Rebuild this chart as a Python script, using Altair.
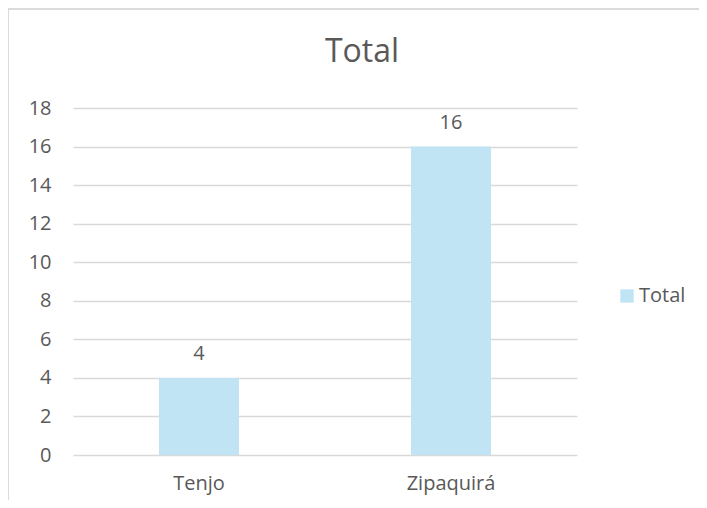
import altair as alt
import pandas as pd

categories = ["Tenjo", "Zipaquirá"]
values = [4, 16]
series_name = "Total"
y_ticks = [0, 2, 4, 6, 8, 10, 12, 14, 16, 18]

df = pd.DataFrame({"Municipio": categories, "Total": values, "Serie": [series_name] * len(categories)})

FONT = "Open Sans"
TXT = "#595959"
BAR = "#C1E4F5"
GRID = "#D9D9D9"
FS = 20

x_enc = alt.X("Municipio:N", sort=categories,
              scale=alt.Scale(paddingInner=0, paddingOuter=0),
              axis=alt.Axis(title=None, labelAngle=0, labelFontSize=FS, labelColor=TXT,
                            labelFont=FONT, labelPadding=18, domain=False, ticks=False, grid=False))
y_enc = alt.Y("Total:Q", scale=alt.Scale(domain=[0, 18], nice=False),
              axis=alt.Axis(title=None, values=y_ticks, labelFontSize=FS,
                            labelColor=TXT, labelFont=FONT, labelPadding=22, domain=False,
                            labelOverlap=False, ticks=False, gridColor=GRID, gridWidth=1.3))

bars = alt.Chart(df).mark_bar(size=80).encode(
    color=alt.Color("Serie:N", scale=alt.Scale(range=[BAR]),
                    legend=alt.Legend(title=None, orient="none", legendX=544, legendY=178,
                                      symbolType="square", symbolSize=180, symbolStrokeWidth=0,
                                      labelFontSize=FS, labelColor=TXT, labelFont=FONT,
                                      padding=0, labelOffset=2)),
)

labels = alt.Chart(df).mark_text(fontSize=FS, color=TXT, font=FONT, baseline="middle", dy=-24).encode(
    text="Total:Q",
)

border_top = alt.Chart(df).mark_rule(color=GRID, strokeWidth=1.5).encode(
    x=alt.value(-65), x2=alt.value(660), y=alt.value(-99))
border_left = alt.Chart(df).mark_rule(color=GRID, strokeWidth=1.5).encode(
    x=alt.value(-65), y=alt.value(-99), y2=alt.value(400))

data_layers = alt.layer(bars, labels).encode(x=x_enc, y=y_enc)

chart = alt.layer(border_top, border_left, data_layers).properties(
    width=504,
    height=347,
    padding={"left": 65, "top": 100, "right": 122, "bottom": 45},
    autosize=alt.AutoSizeParams(type="none"),
    title=alt.TitleParams(text="Total", fontSize=32, font=FONT, color=TXT, fontWeight="normal",
                          anchor="middle", dx=37, baseline="alphabetic", offset=-86, frame="group"),
).configure(background="white").configure_view(strokeWidth=0)

chart.save("out.html", embed_options={"renderer": "svg", "actions": False})
